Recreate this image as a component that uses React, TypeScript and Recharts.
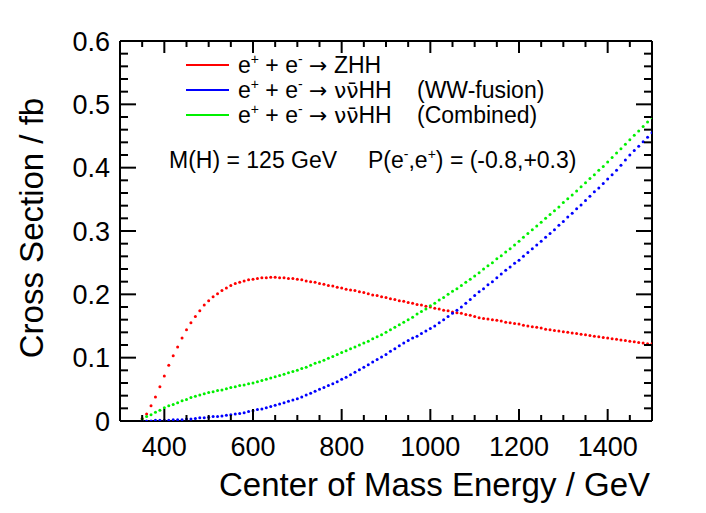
import { LineChart, Line, XAxis, YAxis, ReferenceLine } from "recharts";

// centre-of-mass energy, GeV (10 GeV steps as in the original scan)
const energy = [
  350, 360, 370, 380, 390, 400, 410, 420, 430, 440,
  450, 460, 470, 480, 490, 500, 510, 520, 530, 540,
  550, 560, 570, 580, 590, 600, 610, 620, 630, 640,
  650, 660, 670, 680, 690, 700, 710, 720, 730, 740,
  750, 760, 770, 780, 790, 800, 810, 820, 830, 840,
  850, 860, 870, 880, 890, 900, 910, 920, 930, 940,
  950, 960, 970, 980, 990, 1000, 1010, 1020, 1030, 1040,
  1050, 1060, 1070, 1080, 1090, 1100, 1110, 1120, 1130, 1140,
  1150, 1160, 1170, 1180, 1190, 1200, 1210, 1220, 1230, 1240,
  1250, 1260, 1270, 1280, 1290, 1300, 1310, 1320, 1330, 1340,
  1350, 1360, 1370, 1380, 1390, 1400, 1410, 1420, 1430, 1440,
  1450, 1460, 1470, 1480, 1490, 1500,
];

// cross sections, fb
const zhh = [
  0.004, 0.011, 0.024, 0.038, 0.054, 0.071, 0.088, 0.103, 0.117, 0.131,
  0.144, 0.155, 0.165, 0.174, 0.183, 0.190, 0.196, 0.201, 0.206, 0.210,
  0.214, 0.217, 0.219, 0.221, 0.223, 0.224, 0.225, 0.226, 0.226, 0.227,
  0.227, 0.226, 0.226, 0.225, 0.225, 0.224, 0.223, 0.221, 0.220, 0.219,
  0.217, 0.216, 0.214, 0.213, 0.211, 0.210, 0.208, 0.207, 0.206, 0.204,
  0.203, 0.201, 0.199, 0.198, 0.196, 0.195, 0.193, 0.192, 0.190, 0.189,
  0.187, 0.186, 0.184, 0.183, 0.181, 0.180, 0.178, 0.177, 0.175, 0.174,
  0.172, 0.171, 0.170, 0.168, 0.167, 0.165, 0.163, 0.162, 0.161, 0.160,
  0.159, 0.158, 0.156, 0.155, 0.154, 0.153, 0.151, 0.150, 0.149, 0.148,
  0.147, 0.145, 0.144, 0.143, 0.142, 0.141, 0.140, 0.139, 0.138, 0.137,
  0.136, 0.135, 0.134, 0.133, 0.132, 0.131, 0.130, 0.129, 0.128, 0.127,
  0.126, 0.125, 0.124, 0.123, 0.122, 0.122,
];

const wwFusion = [
  0.000, 0.000, 0.000, 0.001, 0.001, 0.001, 0.001, 0.002, 0.002, 0.002,
  0.003, 0.003, 0.004, 0.005, 0.005, 0.006, 0.007, 0.007, 0.008, 0.009,
  0.010, 0.011, 0.012, 0.013, 0.015, 0.016, 0.018, 0.019, 0.021, 0.023,
  0.025, 0.027, 0.029, 0.031, 0.033, 0.035, 0.038, 0.041, 0.044, 0.047,
  0.050, 0.053, 0.056, 0.059, 0.062, 0.066, 0.069, 0.073, 0.077, 0.081,
  0.085, 0.089, 0.093, 0.097, 0.101, 0.105, 0.110, 0.114, 0.119, 0.123,
  0.127, 0.131, 0.134, 0.138, 0.142, 0.146, 0.150, 0.155, 0.160, 0.165,
  0.170, 0.175, 0.180, 0.186, 0.192, 0.198, 0.204, 0.209, 0.215, 0.220,
  0.226, 0.232, 0.238, 0.243, 0.249, 0.254, 0.260, 0.266, 0.272, 0.278,
  0.284, 0.290, 0.296, 0.302, 0.309, 0.315, 0.322, 0.328, 0.335, 0.341,
  0.348, 0.355, 0.362, 0.368, 0.375, 0.382, 0.389, 0.396, 0.404, 0.412,
  0.420, 0.427, 0.434, 0.441, 0.448, 0.455,
];

const combined = [
  0.003, 0.007, 0.010, 0.014, 0.017, 0.021, 0.024, 0.026, 0.029, 0.032,
  0.034, 0.037, 0.039, 0.041, 0.043, 0.045, 0.046, 0.048, 0.049, 0.051,
  0.053, 0.054, 0.056, 0.057, 0.059, 0.060, 0.062, 0.064, 0.066, 0.068,
  0.070, 0.072, 0.074, 0.076, 0.078, 0.080, 0.083, 0.085, 0.088, 0.091,
  0.093, 0.096, 0.099, 0.102, 0.105, 0.108, 0.111, 0.114, 0.117, 0.120,
  0.123, 0.126, 0.130, 0.133, 0.136, 0.140, 0.144, 0.148, 0.152, 0.156,
  0.160, 0.164, 0.169, 0.173, 0.177, 0.182, 0.186, 0.191, 0.195, 0.200,
  0.205, 0.209, 0.214, 0.219, 0.224, 0.229, 0.234, 0.240, 0.245, 0.250,
  0.256, 0.261, 0.267, 0.272, 0.278, 0.284, 0.290, 0.296, 0.302, 0.308,
  0.314, 0.320, 0.326, 0.332, 0.338, 0.345, 0.351, 0.357, 0.363, 0.370,
  0.376, 0.383, 0.389, 0.396, 0.402, 0.409, 0.416, 0.423, 0.430, 0.437,
  0.444, 0.451, 0.458, 0.465, 0.472, 0.479,
];

const xTicks = [
  300, 350, 400, 450, 500, 550, 600, 650, 700, 750, 800, 850, 900,
  950, 1000, 1050, 1100, 1150, 1200, 1250, 1300, 1350, 1400, 1450, 1500,
];
const xLabels = [400, 600, 800, 1000, 1200, 1400];
const yTicks = [
  0, 0.02, 0.04, 0.06, 0.08, 0.1, 0.12, 0.14, 0.16, 0.18, 0.2, 0.22, 0.24,
  0.26, 0.28, 0.3, 0.32, 0.34, 0.36, 0.38, 0.4, 0.42, 0.44, 0.46, 0.48, 0.5,
  0.52, 0.54, 0.56, 0.58, 0.6,
];
const yLabels = ["0", "0.1", "0.2", "0.3", "0.4", "0.5", "0.6"];

const RED = "#ff0000";
const BLUE = "#0000ff";
const GREEN = "#00f000";
const FONT = "'Liberation Sans', Arial, Helvetica, sans-serif";
const SYMBOL_FONT = "'DejaVu Sans', sans-serif";

const W = 706;
const H = 513;
const PLOT_LEFT = 120;
const PLOT_RIGHT = 652;
const PLOT_TOP = 41;
const PLOT_BOTTOM = 421;

const data = energy.map((e, i) => ({
  e,
  zhh: zhh[i],
  ww: wwFusion[i],
  comb: combined[i],
}));

// ROOT style: ticks point inward, mirrored on top/right
function XTick(props: any) {
  const { x, y, payload } = props;
  const v = payload.value as number;
  const edge = v === 300 || v === 1500;
  const len = v % 200 === 0 ? 12 : 6;
  return (
    <g>
      {!edge && <line x1={x} x2={x} y1={y} y2={y - len} stroke="#000" strokeWidth={2} />}
      {!edge && (
        <line x1={x} x2={x} y1={PLOT_TOP} y2={PLOT_TOP + len} stroke="#000" strokeWidth={2} />
      )}
      {xLabels.includes(v) && (
        <text x={x} y={y + 35} textAnchor="middle" fontSize={27} fontFamily={FONT} fill="#000">
          {v}
        </text>
      )}
    </g>
  );
}

function YTick(props: any) {
  const { x, y, payload } = props;
  const v = payload.value as number;
  const hundredths = Math.round(v * 100);
  const major = hundredths % 10 === 0;
  const edge = hundredths === 0 || hundredths === 60;
  const len = major ? 16 : 8;
  return (
    <g>
      {!edge && <line x1={x} x2={x + len} y1={y} y2={y} stroke="#000" strokeWidth={2} />}
      {!edge && (
        <line x1={PLOT_RIGHT} x2={PLOT_RIGHT - len} y1={y} y2={y} stroke="#000" strokeWidth={2} />
      )}
      {major && (
        <text x={x - 10} y={y} dy="0.36em" textAnchor="end" fontSize={27} fontFamily={FONT} fill="#000">
          {yLabels[hundredths / 10]}
        </text>
      )}
    </g>
  );
}

const legendRows = [
  { color: RED, nunubar: false, note: "" },
  { color: BLUE, nunubar: true, note: "(WW-fusion)" },
  { color: GREEN, nunubar: true, note: "(Combined)" },
];

function Overlay() {
  return (
    <svg
      width={W}
      height={H}
      style={{ position: "absolute", left: 0, top: 0, pointerEvents: "none" }}
      fontFamily={FONT}
    >
      {legendRows.map((r, i) => {
        const base = 73 + i * 25;
        return (
          <g key={i}>
            <line x1={186} x2={229} y1={base - 8} y2={base - 8} stroke={r.color} strokeWidth={2} />
            <text x={238} y={base} fontSize={23} fill="#000">
              e<tspan dy={-9} fontSize={14}>+</tspan>
              <tspan dy={9}> + e</tspan>
              <tspan dy={-9} fontSize={14}>-</tspan>
              <tspan dy={9}> </tspan>
              <tspan fontFamily={SYMBOL_FONT} fontSize={22}>{"\u2192"}</tspan>
              <tspan> </tspan>
              {r.nunubar ? (
                <tspan>
                  <tspan fontFamily={SYMBOL_FONT} fontSize={22}>{"\u03bd\u03bd\u0304"}</tspan>
                  <tspan>HH</tspan>
                </tspan>
              ) : (
                <tspan>ZHH</tspan>
              )}
              {r.note && <tspan x={417}>{r.note}</tspan>}
            </text>
          </g>
        );
      })}
      <text x={169} y={168} fontSize={23} fill="#000">
        M(H) = 125 GeV
      </text>
      <text x={368} y={168} fontSize={23} fill="#000">
        P(e<tspan dy={-9} fontSize={14}>-</tspan>
        <tspan dy={9}>,e</tspan>
        <tspan dy={-9} fontSize={14}>+</tspan>
        <tspan dy={9}>) = (-0.8,+0.3)</tspan>
      </text>
      <text x={650} y={496} textAnchor="end" fontSize={33} fill="#000">
        Center of Mass Energy / GeV
      </text>
      <text x={43} y={228} textAnchor="middle" fontSize={33} fill="#000" transform="rotate(-90, 43, 228)">
        Cross Section / fb
      </text>
    </svg>
  );
}

export default function App() {
  return (
    <div style={{ position: "absolute", left: 0, top: 0, width: W, height: H, background: "#fff" }}>
      <LineChart
        width={W}
        height={H}
        data={data}
        margin={{ top: PLOT_TOP, right: W - PLOT_RIGHT, bottom: 0, left: 0 }}
      >
        <XAxis
          dataKey="e"
          type="number"
          domain={[300, 1500]}
          ticks={xTicks}
          interval={0}
          height={H - PLOT_BOTTOM}
          tickSize={0}
          tickMargin={0}
          tickLine={false}
          axisLine={{ stroke: "#000", strokeWidth: 2 }}
          tick={(p: any) => <XTick {...p} />}
          allowDataOverflow
        />
        <YAxis
          type="number"
          domain={[0, 0.6]}
          ticks={yTicks}
          interval={0}
          width={PLOT_LEFT}
          tickSize={0}
          tickMargin={0}
          tickLine={false}
          axisLine={{ stroke: "#000", strokeWidth: 2 }}
          tick={(p: any) => <YTick {...p} />}
          allowDataOverflow
        />
        <ReferenceLine y={0.6} stroke="#000" strokeWidth={2} />
        <ReferenceLine x={1500} stroke="#000" strokeWidth={2} />
        <Line
          dataKey="zhh"
          stroke="none"
          dot={{ r: 1.5, fill: RED, stroke: "none" }}
          isAnimationActive={false}
        />
        <Line
          dataKey="ww"
          stroke="none"
          dot={{ r: 1.5, fill: BLUE, stroke: "none" }}
          isAnimationActive={false}
        />
        <Line
          dataKey="comb"
          stroke="none"
          dot={{ r: 1.5, fill: GREEN, stroke: "none" }}
          isAnimationActive={false}
        />
      </LineChart>
      <Overlay />
    </div>
  );
}
